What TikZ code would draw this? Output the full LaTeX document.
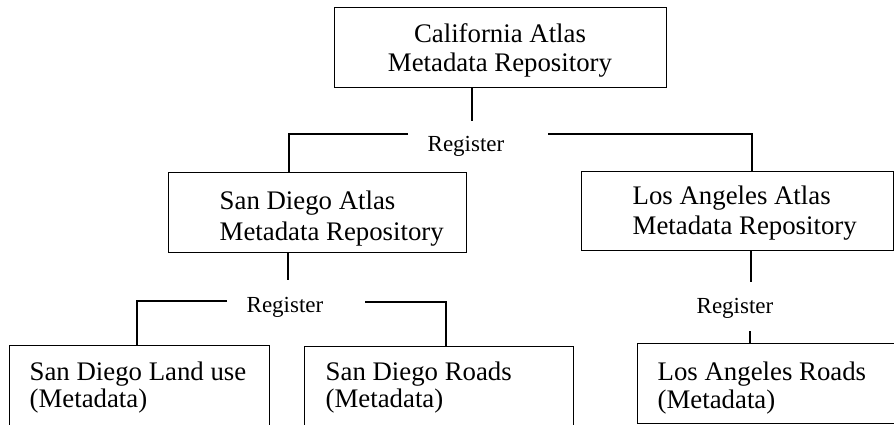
\documentclass[tikz,border=0pt]{standalone}
\usepackage{fontspec}
\setmainfont{Liberation Serif}
\begin{document}
\begin{tikzpicture}[x=1pt,y=-1pt,line width=1.4pt,
  box/.style={draw, rectangle, inner sep=0pt, anchor=north west},
  boxtext/.style={font=\fontsize{26.8}{#1}\selectfont, inner sep=0pt},
  regtext/.style={font=\fontsize{23}{27}\selectfont, inner sep=0pt, anchor=base},
  link/.style={line width=1.4pt}]
\useasboundingbox (0,0) rectangle (894,425);
\clip (0,0) rectangle (894,425);
% boxes
\node[box, minimum width=332pt, minimum height=80pt] (cal) at (334,7) {};
\node[box, minimum width=298pt, minimum height=80pt] (sd) at (168,172) {};
\node[box, minimum width=312pt, minimum height=79pt] (la) at (581,171) {};
\node[box, minimum width=260pt, minimum height=120pt] (sdlu) at (9,345) {};
\node[box, minimum width=269pt, minimum height=120pt] (sdr) at (304,346) {};
\node[box, minimum width=300pt, minimum height=80pt] (lar) at (637,343) {};
% texts
\node[boxtext=29, anchor=base] (caltext) at (500,43) {\begin{tabular}[t]{@{}c@{}}California Atlas\\Metadata Repository\end{tabular}};
\node[boxtext=31, anchor=base west] (sdtext) at (219,209) {\begin{tabular}[t]{@{}l@{}}San Diego Atlas\\Metadata Repository\end{tabular}};
\node[boxtext=30, anchor=base west] (latext) at (632,204) {\begin{tabular}[t]{@{}l@{}}Los Angeles Atlas\\Metadata Repository\end{tabular}};
\node[boxtext=27.5, anchor=base west] (sdlutext) at (29,380) {\begin{tabular}[t]{@{}l@{}}San Diego Land use\\(Metadata)\end{tabular}};
\node[boxtext=27.5, anchor=base west] (sdrtext) at (325,380) {\begin{tabular}[t]{@{}l@{}}San Diego Roads\\(Metadata)\end{tabular}};
\node[boxtext=28, anchor=base west] (lartext) at (657,380) {\begin{tabular}[t]{@{}l@{}}Los Angeles Roads\\(Metadata)\end{tabular}};
% register labels
\node[regtext] (reg1) at (466,152) {Register};
\node[regtext] (reg2) at (285,312) {Register};
\node[regtext] (reg3) at (735,313) {Register};
% junction coordinates
\coordinate (c1) at (472,121);
\coordinate (h1a) at (408,134);
\coordinate (h1l) at (289,134);
\coordinate (h1b) at (548,134);
\coordinate (h1r) at (752,134);
\coordinate (c2) at (288,280);
\coordinate (c3) at (751,282);
\coordinate (h2a) at (227,301);
\coordinate (h2l) at (137,301);
\coordinate (h2b) at (365,302);
\coordinate (h2r) at (446,302);
\coordinate (c4) at (750,331);
% connectors
\draw[link] (cal.south -| c1) -- (c1);
\draw[link] (h1a) -- (h1l) -- (sd.north -| h1l);
\draw[link] (h1b) -- (h1r) -- (la.north -| h1r);
\draw[link] (sd.south -| c2) -- (c2);
\draw[link] (la.south -| c3) -- (c3);
\draw[link] (h2a) -- (h2l) -- (sdlu.north -| h2l);
\draw[link] (h2b) -- (h2r) -- (sdr.north -| h2r);
\draw[link] (c4) -- (lar.north -| c4);
\end{tikzpicture}
\end{document}
